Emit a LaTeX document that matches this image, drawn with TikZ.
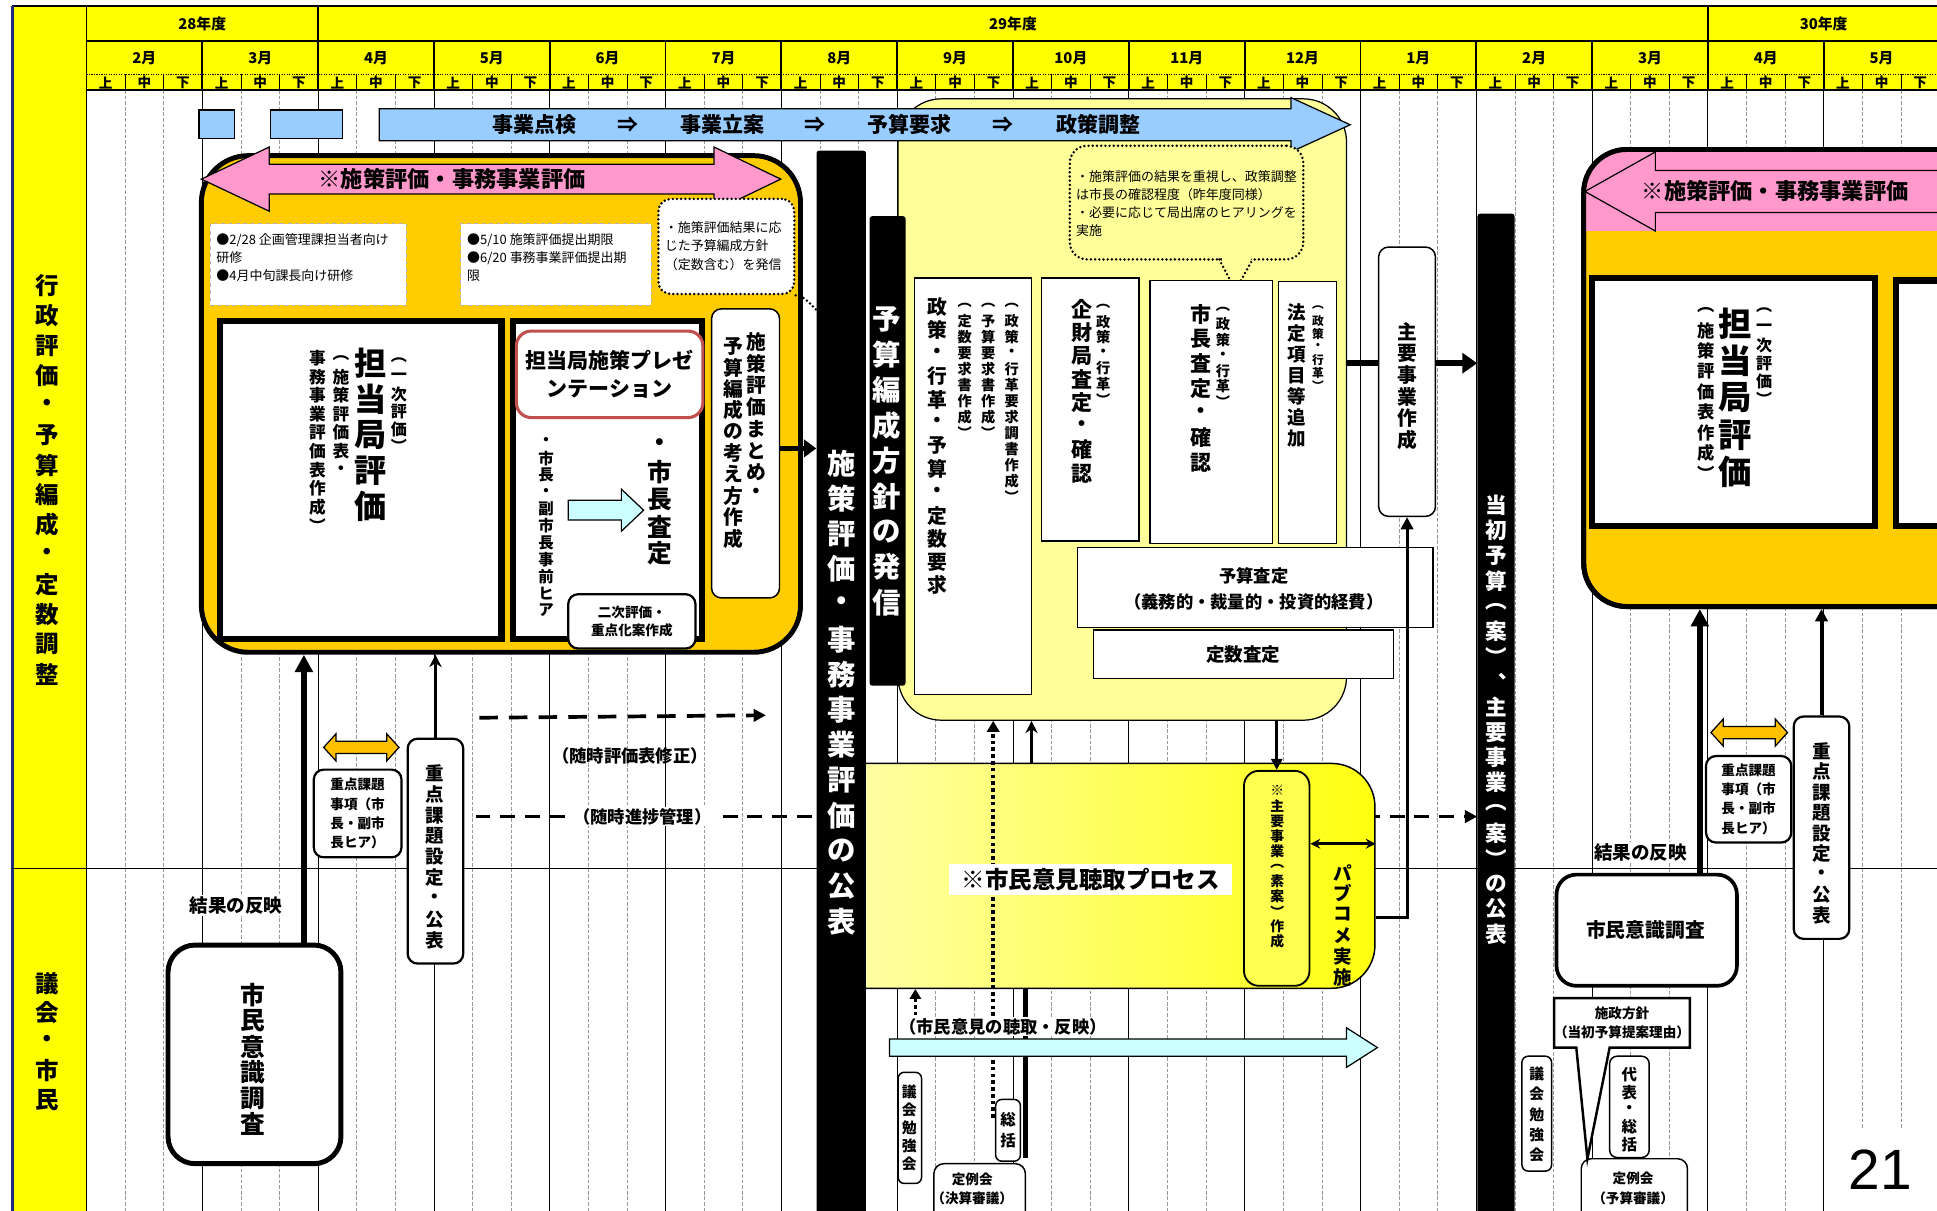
\documentclass[tikz,border=0pt]{standalone}
\usepackage{fontspec}
\setmainfont{Noto Sans CJK JP}
\newfontfamily\arialf{Liberation Sans}
\usetikzlibrary{arrows.meta}
\definecolor{hdrY}{HTML}{FFFF00}
\definecolor{orgY}{HTML}{FFCC00}
\definecolor{ltY}{HTML}{FFFF99}
\definecolor{pinkA}{HTML}{FF99CC}
\definecolor{blueA}{HTML}{99CCFF}
\definecolor{cyanA}{HTML}{CCFFFF}
\definecolor{orgA}{HTML}{FFC000}
\definecolor{redB}{HTML}{C0504D}
\definecolor{gradL}{HTML}{FFFFB0}
\definecolor{gradR}{HTML}{FFFF10}
\definecolor{soanY}{HTML}{FFFF50}
\definecolor{edgeB}{HTML}{1F2A7A}
\newcommand\Fb[2]{\fontsize{#1}{#2}\selectfont\bfseries}
\newcommand\Fr[2]{\fontsize{#1}{#2}\selectfont\mdseries}
\newdimen\vtstep
\def\vtl#1{\ifx\relax#1\else\hbox to\vtstep{\hss\vbox to\vtstep{\vss\hbox{#1}\vss}\hss}\expandafter\vtl\fi}
\newcommand\V[2]{\vtstep=#1\relax\vbox{\offinterlineskip\vtl#2\relax}}
\newcommand\vnode[7][]{\node[inner sep=0pt,anchor=north,font=\Fb{#6}{#6},#1] (#2) at (#3,{#4-#5/2}) {\V{#5pt}{#7}};}
\newcommand\bx[6][]{\node[inner sep=0pt,minimum width={#5-#3},minimum height={#6-#4},#1] (#2) at ({(#3+#5)/2},{(#4+#6)/2}) {};}
\begin{document}
\begin{tikzpicture}[x=1pt,y=-1pt,
  gridd/.style={draw=gray!80,line width=0.5pt,dash pattern=on 3pt off 1.5pt},
  dotstyle/.style={line width=2.2pt,dash pattern=on 0pt off 3.4pt,line cap=round},
  wbox/.style={draw,fill=white,line width=1pt},
  rbox/.style={draw,fill=white,line width=1.8pt,rounded corners=8pt},
  lbl/.style={font=\Fb{14}{17}},
  blk/.style={fill=black,rounded corners=2pt}]
\clip (0,0) rectangle (1568,980);
\fill[white] (0,0) rectangle (1568,980);
% header and left column
\fill[hdrY] (10,5) rectangle (1568,73);
\fill[hdrY] (10,5) rectangle (70,980);
% grid
\foreach \i in {0,...,15}{\foreach \j in {1,2}{
  \draw[gridd] ({70+\i*93.75+\j*31.25},73) -- ({70+\i*93.75+\j*31.25},980);
  \draw[line width=0.5pt] ({70+\i*93.75+\j*31.25},60) -- ({70+\i*93.75+\j*31.25},73);}}
\foreach \i in {1,...,15}{
  \draw[line width=0.6pt] ({70+\i*93.75},73) -- ({70+\i*93.75},980);
  \draw[line width=1.5pt] ({70+\i*93.75},33) -- ({70+\i*93.75},73);}
\foreach \i in {2,14}{\draw[line width=1.5pt] ({70+\i*93.75},5) -- ({70+\i*93.75},33);}
\draw[line width=1.8pt] (10,5) -- (1568,5);
\draw[line width=1.8pt] (70,33) -- (1568,33);
\draw[line width=0.8pt,dash pattern=on 1pt off 1pt] (70,60) -- (1568,60);
\draw[line width=1.5pt] (70,73) -- (1568,73);
\draw[line width=1.2pt] (70,5) -- (70,980);
\draw[edgeB,line width=2pt] (10,5) -- (10,980);
\draw[line width=0.8pt] (10,703) -- (1568,703);
% header text
\node[font=\Fb{12}{14}] (y28) at (163.75,19) {28年度};
\node[font=\Fb{12}{14}] (y29) at (820,19) {29年度};
\node[font=\Fb{12}{14}] (y30) at (1476.25,19) {30年度};
\foreach \m [count=\i from 0] in {2,3,4,5,6,7,8,9,10,11,12,1,2,3,4,5}
  \node[font=\Fb{12}{14}] (mon\i) at ({70+\i*93.75+46.875},47) {\m 月};
\foreach \i in {0,...,15}{
  \foreach \t [count=\j from 0] in {上,中,下}
    \node[font=\Fb{11}{12}] (d\i-\j) at ({70+\i*93.75+\j*31.25+15.625},67) {\t};}
\vnode{lab1}{38}{231}{24.2}{19}{行政評価・予算編成・定数調整}
\vnode{lab2}{38}{796}{23.5}{19}{議会・市民}
% named coordinates
\coordinate (y294) at (0,294);
\coordinate (y363) at (0,363);
\coordinate (y661) at (0,661);
\coordinate (y683) at (0,683);
\coordinate (y743) at (0,743);
\coordinate (x246) at (246,0);
\coordinate (x1376) at (1376,0);
\coordinate (x804) at (804,0);
\coordinate (x835) at (835,0);
\coordinate (x830) at (830,0);
\coordinate (x741) at (741,0);
\coordinate (dA1) at (388,581);
\coordinate (dA2) at (620,579);
\coordinate (dB1) at (385,661);
\coordinate (dC1) at (804,905);
\coordinate (dD1) at (741,822);
\coordinate (sE2) at (830,937);
% dashed arrows
\draw[line width=3pt,dash pattern=on 15pt off 9pt,-{Triangle[length=10pt,width=10pt]}] (dA1) -- (dA2);
\node[lbl] (zuiji1) at (510,612) {（随時評価表修正）};
% big shapes
\bx[draw,fill=ltY,line width=1pt,rounded corners=35pt]{yb}{727}{80}{1090}{583}
\bx[draw,fill=orgY,line width=4pt,rounded corners=38pt]{ob}{163}{126}{648}{528}
\bx[draw,fill=orgY,line width=4pt,rounded corners=35pt]{ob2}{1282}{121}{1650}{491}
\begin{scope}
\clip[rounded corners=35pt] (1282,121) rectangle (1650,491);
\fill[pinkA] (1282,121) rectangle (1650,187);
\end{scope}
\draw[line width=4pt,rounded corners=35pt] (1282,121) rectangle (1650,491);
% bars (bar3 first for arrow target)
\bx[blk]{bar3}{1196}{173}{1226}{990}
\draw[line width=3pt,dash pattern=on 12pt off 8pt,-{Triangle[length=10pt,width=10pt]}] (dB1) -- (bar3.west |- y661);
\node[lbl,fill=white,inner sep=1pt] (zuiji2) at (520,661) {（随時進捗管理）};
\bx[draw,line width=1.2pt,rounded corners=35pt,left color=gradL,right color=gradR]{pc}{665}{618}{1113}{800}
% blue top
\bx[draw,fill=blueA,line width=1pt]{bs1}{161}{89}{190}{112}
\bx[draw,fill=blueA,line width=1pt]{bs2}{219}{89}{277}{112}
\draw[fill=blueA,line width=1pt] (307,88) -- (1045,88) -- (1045,79) -- (1093,101) -- (1045,123) -- (1045,114) -- (307,114) -- cycle;
\foreach \xx/\tt [count=\k] in {433/事業点検,508/⇒,585/事業立案,660/⇒,736/予算要求,812/⇒,889/政策調整}
  \node[font=\Fb{17}{20}] (flow\k) at (\xx,101) {\tt};
% pink arrows
\draw[fill=pinkA,line width=1pt] (163,145) -- (218,119) -- (218,133) -- (578,133) -- (578,119) -- (632,145) -- (578,171) -- (578,157) -- (218,157) -- (218,171) -- cycle;
\node[font=\Fb{18}{21}] (pk1) at (366,145) {※施策評価・事務事業評価};
\draw[fill=pinkA,line width=1pt] (1283,155) -- (1340,123) -- (1340,138) -- (1600,138) -- (1600,172) -- (1340,172) -- (1340,187) -- cycle;
\node[font=\Fb{18}{21}] (pk2) at (1437,155) {※施策評価・事務事業評価};
% notes
\bx[draw=gray!60,dashed,fill=white,line width=0.8pt]{n1}{170}{181}{329}{247}
\node[anchor=north west,align=left,font=\Fr{10.5}{14.5},inner sep=0pt] (n1t) at (175,189) {●2/28 企画管理課担当者向け\\研修\\●4月中旬課長向け研修};
\bx[draw=gray!60,dashed,fill=white,line width=0.8pt]{n2}{373}{181}{527}{247}
\node[anchor=north west,align=left,font=\Fr{10.5}{14.5},inner sep=0pt] (n2t) at (378,189) {●5/10 施策評価提出期限\\●6/20 事務事業評価提出期\\限};
\bx[draw,dotstyle,fill=white,rounded corners=10pt]{n3}{533}{161}{643}{238}
\node[anchor=north west,align=left,font=\Fr{10.5}{15},inner sep=0pt] (n3t) at (538,179) {・施策評価結果に応\\じた予算編成方針\\（定数含む）を発信};
\draw[dotstyle] (n3.south east) .. controls (650,240) .. (662,252);
% inner box 1
\bx[draw,fill=white,line width=5pt]{ib1}{178}{260}{406}{517}
\vnode{t1a}{323}{291}{14}{13}{︵一次評価︶}
\vnode{t1b}{300}{294}{29}{26}{担当局評価}
\vnode{t1c}{276}{290}{15}{13.5}{︵施策評価表・}
\vnode{t1d}{257}{290}{15}{13.5}{事務事業評価表作成︶}
% inner box 2
\bx[draw,fill=white,line width=5pt]{ib2}{415}{260}{568}{517}
\bx[draw=redB,fill=white,line width=2.5pt,rounded corners=12pt]{pres}{418}{268}{569}{338}
\node[font=\Fb{17}{23},align=center] (prest) at (pres) {担当局施策プレゼ\\ンテーション};
\vnode{t2a}{442}{357}{13.7}{12.5}{・市長・副市長事前ヒア}
\draw[fill=cyanA,line width=1pt] (460,405) -- (503,405) -- (503,396) -- (521,413) -- (503,430) -- (503,421) -- (460,421) -- cycle;
\vnode{t2b}{534}{360}{22}{20}{・市長査定}
\bx[rbox]{nj}{460}{481}{563}{525}
\node[font=\Fb{11}{15},align=center] (njt) at (nj) {二次評価・\\重点化案作成};
% matome
\bx[draw,fill=white,line width=1.2pt,rounded corners=8pt]{matome}{576}{250}{631}{484}
\vnode{t3a}{612}{277}{17.5}{16}{施策評価まとめ・}
\vnode{t3b}{594}{280}{17.3}{16}{予算編成の考え方作成}
% bars
\bx[blk]{bar1}{661}{122}{701}{990}
\vnode[text=white]{bar1t}{681}{375}{28.5}{23}{施策評価・事務事業評価の公表}
\bx[blk]{bar2}{704}{175}{733}{555}
\vnode[text=white]{bar2t}{718}{258}{28.7}{23}{予算編成方針の発信}
\vnode[text=white]{bar3t}{1211}{409}{20.4}{17.5}{当初予算︵案︶︑主要事業︵案︶の公表}
\draw[line width=4pt,-{Triangle[length=10pt,width=14pt]}] (matome.east |- y363) -- (bar1.west |- y363);
% callout in yellow box
\bx[draw,dotstyle,fill=ltY,rounded corners=14pt]{cb}{866}{118}{1055}{210}
\fill[ltY] (989,205) rectangle (1013,215);
\coordinate (cbtip) at (1000,235);
\draw[dotstyle] (987,210) -- (cbtip) -- (1014,210);
\node[anchor=north west,align=left,font=\Fr{10.5}{14.5},inner sep=0pt] (cbt) at (871,138) {・施策評価の結果を重視し、政策調整\\は市長の確認程度（昨年度同様）\\・必要に応じて局出席のヒアリングを\\実施};
% request boxes
\bx[wbox]{k1}{740}{225}{835}{562}
\vnode{k1a}{759}{248}{18.8}{16}{政策・行革・予算・定数要求}
\vnode{k1b}{819}{247}{12.9}{11.5}{︵政策・行革要求調書作成︶}
\vnode{k1c}{800}{247}{12.9}{11.5}{︵予算要求書作成︶}
\vnode{k1d}{781}{247}{12.9}{11.5}{︵定数要求書作成︶}
\bx[wbox]{k2}{843}{225}{922}{438}
\vnode{k2a}{876}{250}{19}{17}{企財局査定・確認}
\vnode{k2b}{893}{248}{12.5}{11.5}{︵政策・行革︶}
\bx[wbox]{k3}{931}{227}{1030}{440}
\vnode{k3a}{972}{254}{20}{17}{市長査定・確認}
\vnode{k3b}{990}{250}{12.5}{11.5}{︵政策・行革︶}
\bx[wbox]{k4}{1035}{228}{1082}{440}
\vnode{k4a}{1050}{253}{17}{15}{法定項目等追加}
\vnode{k4b}{1067}{249}{10.5}{9.5}{︵政策・行革︶}
\bx[wbox]{k5}{872}{443}{1160}{508}
\node[font=\Fb{14}{17}] (k5a) at (1015,466) {予算査定};
\node[font=\Fb{14}{17}] (k5b) at (1015,487) {（義務的・裁量的・投資的経費）};
\bx[wbox]{k6}{885}{510}{1128}{549}
\node[font=\Fb{15}{18}] (k6a) at (k6) {定数査定};
% shuyo
\bx[draw,fill=white,line width=1.2pt,rounded corners=8pt]{shuyo}{1116}{200}{1162}{418}
\vnode{shuyot}{1139}{268}{17.6}{16}{主要事業作成}
\draw[line width=5pt] (yb.east |- y294) -- (shuyo.west |- y294);
\draw[line width=5pt,-{Triangle[length=12pt,width=16pt]}] (shuyo.east |- y294) -- (bar3.west |- y294);
% right box content
\bx[draw,fill=white,line width=5pt]{ib3}{1289}{225}{1518}{426}
\vnode{t4a}{1428}{251}{14.4}{13}{︵一次評価︶}
\vnode{t4b}{1405}{262}{30}{27}{担当局評価}
\vnode{t4c}{1381}{251}{16.5}{14}{︵施策評価表作成︶}
\bx[draw,fill=white,line width=5pt]{ib4}{1535}{227}{1620}{426}
% right lower
\bx[draw,fill=white,line width=3pt,rounded corners=16pt]{rsurvey}{1260}{708}{1406}{798}
\node[font=\Fb{16}{19}] (rsurveyt) at (1332,753) {市民意識調査};
\draw[line width=5pt,-{Triangle[length=14pt,width=14pt]}] (rsurvey.north -| x1376) -- (ob2.south -| x1376);
\node[font=\Fb{15}{18},fill=white,inner sep=1pt] (rres) at (1328,690) {結果の反映};
\draw[fill=orgA,line width=1pt] (1385,593) -- (1395,582) -- (1395,588) -- (1437,588) -- (1437,582) -- (1447,593) -- (1437,604) -- (1437,598) -- (1395,598) -- (1395,604) -- cycle;
\bx[rbox]{rjk}{1381}{612}{1450}{682}
\node[font=\Fb{11}{15.5},align=left] (rjkt) at (rjk) {重点課題\\事項（市\\長・副市\\長ヒア）};
\bx[rbox]{rjt}{1452}{580}{1497}{760}
\vnode{rjtt}{1475}{608}{16.6}{15}{重点課題設定・公表}
\draw[line width=2.5pt,-{Triangle[length=10pt,width=10pt]}] (rjt.north) -- (ob2.south -| rjt.north);
\bx[draw,fill=white,line width=1.2pt,rounded corners=5pt]{rgik}{1232}{855}{1256}{948}
\vnode{rgikt}{1244}{869}{16.5}{12}{議会勉強会}
\bx[draw,fill=white,line width=1.2pt,rounded corners=6pt]{daihyo}{1303}{855}{1335}{937}
\vnode{daihyot}{1319}{870}{14}{12.5}{代表・総括}
\bx[draw,fill=white,line width=1.2pt,rounded corners=8pt]{rteirei}{1280}{938}{1366}{995}
\node[font=\Fb{11}{13}] (rteirei1) at (1322,954) {定例会};
\node[font=\Fb{11}{13}] (rteirei2) at (1322,970) {（予算審議）};
\coordinate (calltip) at (1285,938);
\draw[fill=white,line width=2pt] (1258,808) -- (1368,808) -- (1368,848) -- (1303,848) -- (calltip) -- (1276,848) -- (1258,848) -- cycle;
\node[font=\Fb{11}{13}] (shisei1) at (1313,820) {施政方針};
\node[font=\Fb{11}{13}] (shisei2) at (1313,836) {（当初予算提案理由）};
% left lower
\bx[draw,fill=white,line width=4pt,rounded corners=22pt]{lsurvey}{136}{765}{276}{942}
\vnode{lsurveyt}{205}{805}{21}{20}{市民意識調査}
\draw[line width=5pt,-{Triangle[length=14pt,width=14pt]}] (lsurvey.north -| x246) -- (ob.south -| x246);
\node[font=\Fb{15}{18},fill=white,inner sep=1pt] (lres) at (191,733) {結果の反映};
\draw[fill=orgA,line width=1pt] (262,605) -- (272,594) -- (272,600) -- (313,600) -- (313,594) -- (323,605) -- (313,616) -- (313,610) -- (272,610) -- (272,616) -- cycle;
\bx[rbox]{ljk}{254}{623}{325}{694}
\node[font=\Fb{11}{15.5},align=left] (ljkt) at (ljk) {重点課題\\事項（市\\長・副市\\長ヒア）};
\bx[rbox]{ljt}{330}{598}{375}{780}
\vnode{ljtt}{352}{626}{16.9}{15}{重点課題設定・公表}
\draw[line width=2.5pt,-{Stealth[length=10pt,width=10pt]}] (ljt.north) -- (ob.south -| ljt.north);
% citizen process content
\draw[line width=3.5pt,dash pattern=on 3pt off 2.5pt,-{Triangle[length=9pt,width=10pt]}] (dC1) -- (yb.south -| x804);
\node[font=\Fb{19}{22},fill=white,minimum width=229pt,minimum height=25pt,inner sep=0pt] (pct) at (883,712) {※市民意見聴取プロセス};
\bx[draw,fill=soanY,line width=1.5pt,rounded corners=12pt]{soan}{1007}{624}{1060}{798}
\vnode{soant}{1034}{640}{12.2}{11.2}{※主要事業︵素案︶作成}
\draw[line width=2.5pt,{Stealth[length=8pt,width=8pt]}-{Stealth[length=8pt,width=8pt]}] (soan.east |- y683) -- (pc.east |- y683);
\vnode{pabut}{1087}{706}{17}{15}{パブコメ実施}
\draw[line width=2.5pt,-{Triangle[length=9pt,width=9pt]}] (yb.south -| soan.north) -- (soan.north);
\draw[line width=2.5pt,-{Triangle[length=10pt,width=10pt]}] (pc.east |- y743) -| (shuyo.south);
\draw[line width=3pt,-{Stealth[length=10pt,width=10pt]}] (pc.north -| x835) -- (yb.south -| x835);
\draw[line width=3.5pt] (pc.south -| x830) -- (sE2);
\draw[line width=3pt,dash pattern=on 3pt off 2.5pt,-{Triangle[length=8pt,width=9pt]}] (dD1) -- (pc.south -| x741);
\draw[fill=cyanA,line width=1pt] (720,841) -- (1090,841) -- (1090,832) -- (1115,848) -- (1090,864) -- (1090,855) -- (720,855) -- cycle;
\node[font=\Fb{14}{17},fill=white,inner sep=1pt] (pcl) at (812,831) {（市民意見の聴取・反映）};
\bx[draw,fill=white,line width=1.2pt,rounded corners=5pt]{lgik}{727}{868}{746}{958}
\vnode{lgikt}{736}{884}{14.5}{12}{議会勉強会}
\bx[draw,fill=white,line width=1.2pt,rounded corners=5pt]{sokatsu}{806}{890}{826}{940}
\vnode{sokatsut}{816}{906}{17}{12.5}{総括}
\bx[draw,fill=white,line width=1.2pt,rounded corners=8pt]{lteirei}{756}{942}{830}{995}
\node[font=\Fb{11}{13}] (lteirei1) at (787,955) {定例会};
\node[font=\Fb{11}{13}] (lteirei2) at (787,970) {（決算審議）};
% page number
\fill[white] (1482,915) rectangle (1568,980);
\node[font=\arialf\fontsize{46}{46}\selectfont] (pnum) at (1522,947) {21};
\end{tikzpicture}
\end{document}
